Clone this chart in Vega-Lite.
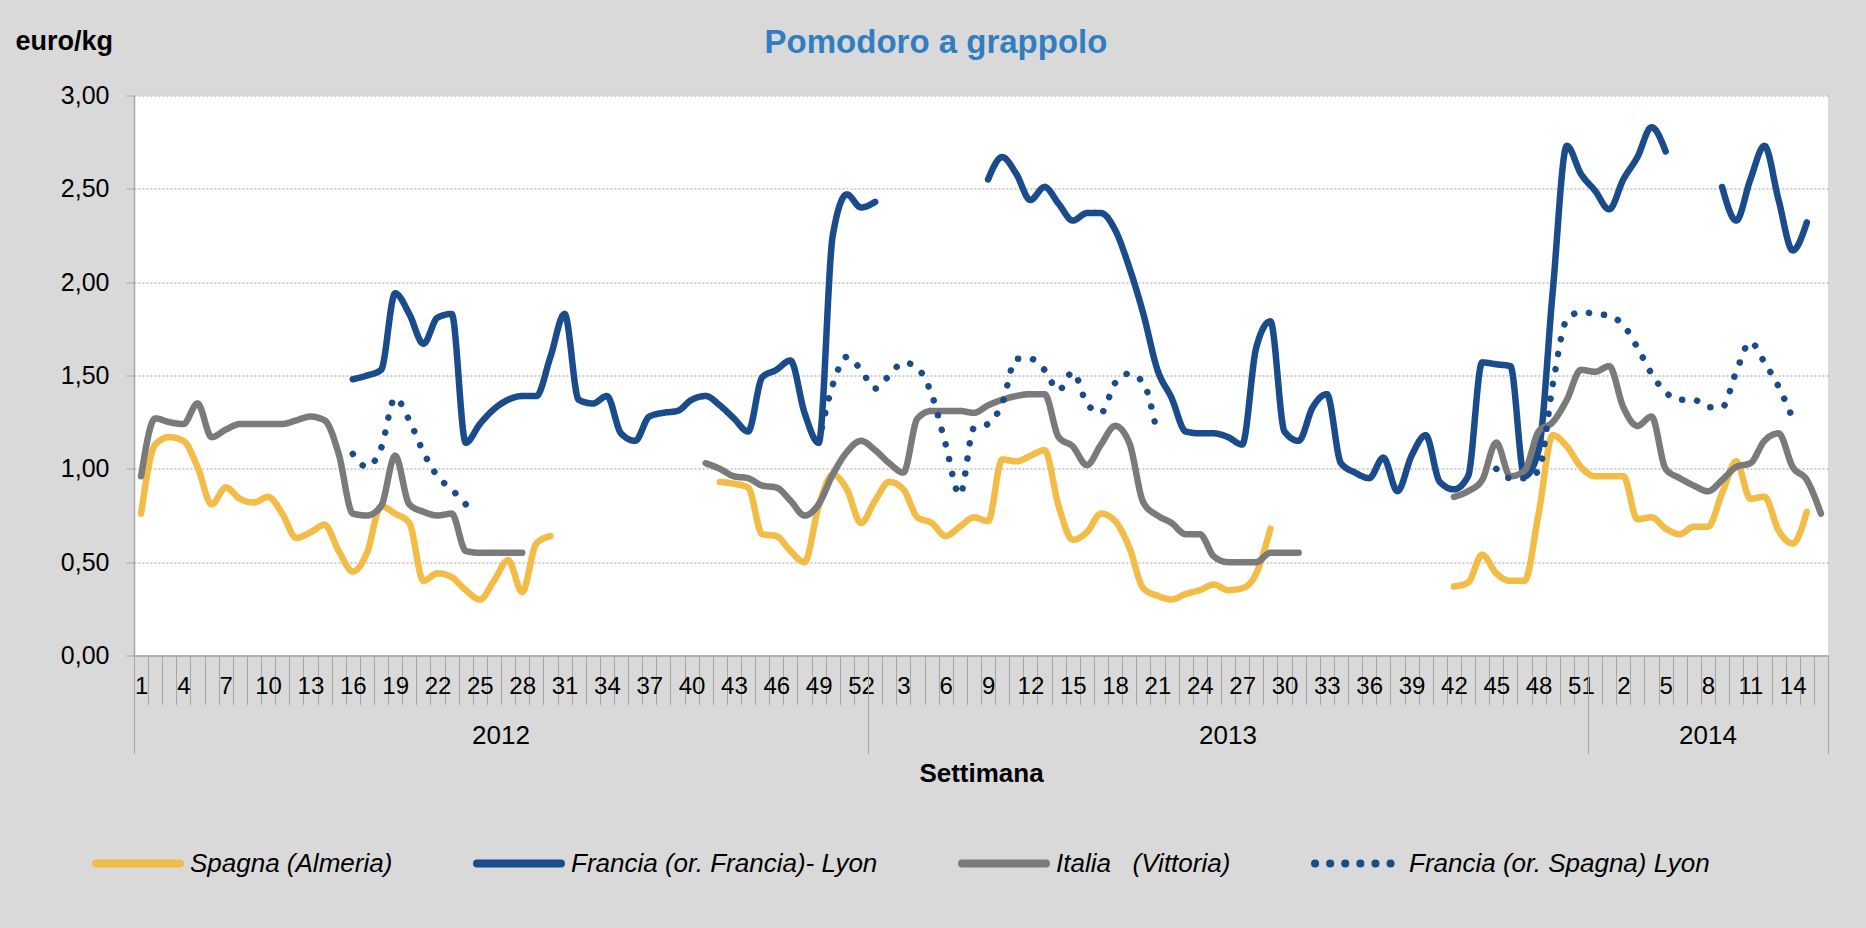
{
  "$schema": "https://vega.github.io/schema/vega-lite/v6.json",
  "width": 1694,
  "height": 560,
  "autosize": {"type": "none"},
  "padding": {"left": 134, "top": 95.5, "right": 38, "bottom": 272.5},
  "background": "#D9D9D9",
  "config": {
    "font": "Liberation Sans",
    "view": {"fill": "white", "stroke": null}
  },
  "title": {
    "text": "Pomodoro a grappolo",
    "anchor": "middle",
    "dx": -45,
    "dy": 101,
    "offset": 43,
    "baseline": "alphabetic",
    "fontSize": 33,
    "fontWeight": "bold",
    "font": "Liberation Sans",
    "color": "#317DC2"
  },
  "data": {
    "values": [
      {"periodo": "2012-01", "spagna": 0.76, "francia": null, "italia": 0.96, "franciaSp": null},
      {"periodo": "2012-02", "spagna": 1.13, "francia": null, "italia": 1.27, "franciaSp": null},
      {"periodo": "2012-03", "spagna": 1.17, "francia": null, "italia": 1.25, "franciaSp": null},
      {"periodo": "2012-04", "spagna": 1.15, "francia": null, "italia": 1.24, "franciaSp": null},
      {"periodo": "2012-05", "spagna": 1.01, "francia": null, "italia": 1.35, "franciaSp": null},
      {"periodo": "2012-06", "spagna": 0.81, "francia": null, "italia": 1.17, "franciaSp": null},
      {"periodo": "2012-07", "spagna": 0.90, "francia": null, "italia": 1.21, "franciaSp": null},
      {"periodo": "2012-08", "spagna": 0.84, "francia": null, "italia": 1.24, "franciaSp": null},
      {"periodo": "2012-09", "spagna": 0.82, "francia": null, "italia": 1.24, "franciaSp": null},
      {"periodo": "2012-10", "spagna": 0.85, "francia": null, "italia": 1.24, "franciaSp": null},
      {"periodo": "2012-11", "spagna": 0.76, "francia": null, "italia": 1.24, "franciaSp": null},
      {"periodo": "2012-12", "spagna": 0.63, "francia": null, "italia": 1.26, "franciaSp": null},
      {"periodo": "2012-13", "spagna": 0.66, "francia": null, "italia": 1.28, "franciaSp": null},
      {"periodo": "2012-14", "spagna": 0.70, "francia": null, "italia": 1.26, "franciaSp": null},
      {"periodo": "2012-15", "spagna": 0.56, "francia": null, "italia": 1.08, "franciaSp": null},
      {"periodo": "2012-16", "spagna": 0.45, "francia": 1.48, "italia": 0.76, "franciaSp": 1.08},
      {"periodo": "2012-17", "spagna": 0.55, "francia": 1.50, "italia": 0.75, "franciaSp": 1.01},
      {"periodo": "2012-18", "spagna": 0.80, "francia": 1.53, "italia": 0.80, "franciaSp": 1.11},
      {"periodo": "2012-19", "spagna": 0.76, "francia": 1.94, "italia": 1.07, "franciaSp": 1.38},
      {"periodo": "2012-20", "spagna": 0.71, "francia": 1.83, "italia": 0.81, "franciaSp": 1.26},
      {"periodo": "2012-21", "spagna": 0.40, "francia": 1.67, "italia": 0.77, "franciaSp": 1.09},
      {"periodo": "2012-22", "spagna": 0.44, "francia": 1.81, "italia": 0.75, "franciaSp": 0.96},
      {"periodo": "2012-23", "spagna": 0.42, "francia": 1.83, "italia": 0.76, "franciaSp": 0.89},
      {"periodo": "2012-24", "spagna": 0.35, "francia": 1.14, "italia": 0.56, "franciaSp": 0.81},
      {"periodo": "2012-25", "spagna": 0.30, "francia": 1.24, "italia": 0.55, "franciaSp": null},
      {"periodo": "2012-26", "spagna": 0.40, "francia": 1.32, "italia": 0.55, "franciaSp": null},
      {"periodo": "2012-27", "spagna": 0.51, "francia": 1.37, "italia": 0.55, "franciaSp": null},
      {"periodo": "2012-28", "spagna": 0.34, "francia": 1.39, "italia": 0.55, "franciaSp": null},
      {"periodo": "2012-29", "spagna": 0.60, "francia": 1.39, "italia": null, "franciaSp": null},
      {"periodo": "2012-30", "spagna": 0.64, "francia": 1.60, "italia": null, "franciaSp": null},
      {"periodo": "2012-31", "spagna": null, "francia": 1.83, "italia": null, "franciaSp": null},
      {"periodo": "2012-32", "spagna": null, "francia": 1.37, "italia": null, "franciaSp": null},
      {"periodo": "2012-33", "spagna": null, "francia": 1.35, "italia": null, "franciaSp": null},
      {"periodo": "2012-34", "spagna": null, "francia": 1.39, "italia": null, "franciaSp": null},
      {"periodo": "2012-35", "spagna": null, "francia": 1.19, "italia": null, "franciaSp": null},
      {"periodo": "2012-36", "spagna": null, "francia": 1.15, "italia": null, "franciaSp": null},
      {"periodo": "2012-37", "spagna": null, "francia": 1.28, "italia": null, "franciaSp": null},
      {"periodo": "2012-38", "spagna": null, "francia": 1.30, "italia": null, "franciaSp": null},
      {"periodo": "2012-39", "spagna": null, "francia": 1.31, "italia": null, "franciaSp": null},
      {"periodo": "2012-40", "spagna": null, "francia": 1.37, "italia": null, "franciaSp": null},
      {"periodo": "2012-41", "spagna": null, "francia": 1.39, "italia": 1.03, "franciaSp": null},
      {"periodo": "2012-42", "spagna": 0.93, "francia": 1.34, "italia": 1.00, "franciaSp": null},
      {"periodo": "2012-43", "spagna": 0.92, "francia": 1.27, "italia": 0.96, "franciaSp": null},
      {"periodo": "2012-44", "spagna": 0.90, "francia": 1.20, "italia": 0.95, "franciaSp": null},
      {"periodo": "2012-45", "spagna": 0.65, "francia": 1.49, "italia": 0.91, "franciaSp": null},
      {"periodo": "2012-46", "spagna": 0.64, "francia": 1.53, "italia": 0.90, "franciaSp": null},
      {"periodo": "2012-47", "spagna": 0.56, "francia": 1.58, "italia": 0.83, "franciaSp": null},
      {"periodo": "2012-48", "spagna": 0.50, "francia": 1.30, "italia": 0.75, "franciaSp": null},
      {"periodo": "2012-49", "spagna": 0.80, "francia": 1.14, "italia": 0.81, "franciaSp": 1.14},
      {"periodo": "2012-50", "spagna": 0.97, "francia": 2.25, "italia": 0.97, "franciaSp": 1.45},
      {"periodo": "2012-51", "spagna": 0.89, "francia": 2.47, "italia": 1.09, "franciaSp": 1.60},
      {"periodo": "2012-52", "spagna": 0.71, "francia": 2.40, "italia": 1.15, "franciaSp": 1.53},
      {"periodo": "2013-01", "spagna": 0.83, "francia": 2.43, "italia": 1.10, "franciaSp": 1.43},
      {"periodo": "2013-02", "spagna": 0.93, "francia": null, "italia": 1.03, "franciaSp": 1.50},
      {"periodo": "2013-03", "spagna": 0.89, "francia": null, "italia": 0.98, "franciaSp": 1.57},
      {"periodo": "2013-04", "spagna": 0.74, "francia": null, "italia": 1.27, "franciaSp": 1.54},
      {"periodo": "2013-05", "spagna": 0.71, "francia": null, "italia": 1.31, "franciaSp": 1.40},
      {"periodo": "2013-06", "spagna": 0.64, "francia": null, "italia": 1.31, "franciaSp": 1.13},
      {"periodo": "2013-07", "spagna": 0.69, "francia": null, "italia": 1.31, "franciaSp": 0.86},
      {"periodo": "2013-08", "spagna": 0.74, "francia": null, "italia": 1.30, "franciaSp": 1.22},
      {"periodo": "2013-09", "spagna": 0.72, "francia": 2.55, "italia": 1.34, "franciaSp": 1.24},
      {"periodo": "2013-10", "spagna": 1.05, "francia": 2.67, "italia": 1.37, "franciaSp": 1.35},
      {"periodo": "2013-11", "spagna": 1.04, "francia": 2.58, "italia": 1.39, "franciaSp": 1.59},
      {"periodo": "2013-12", "spagna": 1.07, "francia": 2.44, "italia": 1.40, "franciaSp": 1.59},
      {"periodo": "2013-13", "spagna": 1.10, "francia": 2.51, "italia": 1.40, "franciaSp": 1.53},
      {"periodo": "2013-14", "spagna": 0.80, "francia": 2.42, "italia": 1.17, "franciaSp": 1.42},
      {"periodo": "2013-15", "spagna": 0.62, "francia": 2.33, "italia": 1.12, "franciaSp": 1.52},
      {"periodo": "2013-16", "spagna": 0.66, "francia": 2.37, "italia": 1.02, "franciaSp": 1.35},
      {"periodo": "2013-17", "spagna": 0.76, "francia": 2.37, "italia": 1.13, "franciaSp": 1.30},
      {"periodo": "2013-18", "spagna": 0.72, "francia": 2.28, "italia": 1.23, "franciaSp": 1.46},
      {"periodo": "2013-19", "spagna": 0.58, "francia": 2.08, "italia": 1.14, "franciaSp": 1.51},
      {"periodo": "2013-20", "spagna": 0.36, "francia": 1.83, "italia": 0.82, "franciaSp": 1.46},
      {"periodo": "2013-21", "spagna": 0.32, "francia": 1.53, "italia": 0.75, "franciaSp": 1.18},
      {"periodo": "2013-22", "spagna": 0.30, "francia": 1.38, "italia": 0.71, "franciaSp": null},
      {"periodo": "2013-23", "spagna": 0.33, "francia": 1.20, "italia": 0.65, "franciaSp": null},
      {"periodo": "2013-24", "spagna": 0.35, "francia": 1.19, "italia": 0.65, "franciaSp": null},
      {"periodo": "2013-25", "spagna": 0.38, "francia": 1.19, "italia": 0.53, "franciaSp": null},
      {"periodo": "2013-26", "spagna": 0.35, "francia": 1.17, "italia": 0.50, "franciaSp": null},
      {"periodo": "2013-27", "spagna": 0.36, "francia": 1.13, "italia": 0.50, "franciaSp": null},
      {"periodo": "2013-28", "spagna": 0.44, "francia": 1.65, "italia": 0.50, "franciaSp": null},
      {"periodo": "2013-29", "spagna": 0.68, "francia": 1.79, "italia": 0.55, "franciaSp": null},
      {"periodo": "2013-30", "spagna": null, "francia": 1.20, "italia": 0.55, "franciaSp": null},
      {"periodo": "2013-31", "spagna": null, "francia": 1.15, "italia": 0.55, "franciaSp": null},
      {"periodo": "2013-32", "spagna": null, "francia": 1.33, "italia": null, "franciaSp": null},
      {"periodo": "2013-33", "spagna": null, "francia": 1.40, "italia": null, "franciaSp": null},
      {"periodo": "2013-34", "spagna": null, "francia": 1.03, "italia": null, "franciaSp": null},
      {"periodo": "2013-35", "spagna": null, "francia": 0.98, "italia": null, "franciaSp": null},
      {"periodo": "2013-36", "spagna": null, "francia": 0.95, "italia": null, "franciaSp": null},
      {"periodo": "2013-37", "spagna": null, "francia": 1.06, "italia": null, "franciaSp": null},
      {"periodo": "2013-38", "spagna": null, "francia": 0.88, "italia": null, "franciaSp": null},
      {"periodo": "2013-39", "spagna": null, "francia": 1.07, "italia": null, "franciaSp": null},
      {"periodo": "2013-40", "spagna": null, "francia": 1.18, "italia": null, "franciaSp": null},
      {"periodo": "2013-41", "spagna": null, "francia": 0.93, "italia": null, "franciaSp": null},
      {"periodo": "2013-42", "spagna": 0.37, "francia": 0.89, "italia": 0.85, "franciaSp": null},
      {"periodo": "2013-43", "spagna": 0.39, "francia": 0.96, "italia": 0.88, "franciaSp": null},
      {"periodo": "2013-44", "spagna": 0.54, "francia": 1.57, "italia": 0.94, "franciaSp": null},
      {"periodo": "2013-45", "spagna": 0.44, "francia": 1.56, "italia": 1.14, "franciaSp": 1.00},
      {"periodo": "2013-46", "spagna": 0.40, "francia": 1.55, "italia": 0.96, "franciaSp": 0.95},
      {"periodo": "2013-47", "spagna": 0.40, "francia": 0.96, "italia": 0.99, "franciaSp": 0.95},
      {"periodo": "2013-48", "spagna": 0.76, "francia": 1.10, "italia": 1.20, "franciaSp": 0.99},
      {"periodo": "2013-49", "spagna": 1.18, "francia": 1.95, "italia": 1.25, "franciaSp": 1.45},
      {"periodo": "2013-50", "spagna": 1.12, "francia": 2.73, "italia": 1.37, "franciaSp": 1.80},
      {"periodo": "2013-51", "spagna": 1.01, "francia": 2.58, "italia": 1.53, "franciaSp": 1.84},
      {"periodo": "2013-52", "spagna": 0.96, "francia": 2.49, "italia": 1.52, "franciaSp": 1.83},
      {"periodo": "2014-01", "spagna": 0.96, "francia": 2.39, "italia": 1.55, "franciaSp": 1.82},
      {"periodo": "2014-02", "spagna": 0.96, "francia": 2.55, "italia": 1.33, "franciaSp": 1.77},
      {"periodo": "2014-03", "spagna": 0.73, "francia": 2.67, "italia": 1.23, "franciaSp": 1.65},
      {"periodo": "2014-04", "spagna": 0.74, "francia": 2.83, "italia": 1.28, "franciaSp": 1.51},
      {"periodo": "2014-05", "spagna": 0.68, "francia": 2.70, "italia": 1.00, "franciaSp": 1.41},
      {"periodo": "2014-06", "spagna": 0.65, "francia": null, "italia": 0.95, "franciaSp": 1.37},
      {"periodo": "2014-07", "spagna": 0.69, "francia": null, "italia": 0.91, "franciaSp": 1.37},
      {"periodo": "2014-08", "spagna": 0.69, "francia": null, "italia": 0.88, "franciaSp": 1.33},
      {"periodo": "2014-09", "spagna": 0.87, "francia": 2.51, "italia": 0.94, "franciaSp": 1.33},
      {"periodo": "2014-10", "spagna": 1.04, "francia": 2.33, "italia": 1.01, "franciaSp": 1.52},
      {"periodo": "2014-11", "spagna": 0.84, "francia": 2.55, "italia": 1.03, "franciaSp": 1.68},
      {"periodo": "2014-12", "spagna": 0.85, "francia": 2.73, "italia": 1.15, "franciaSp": 1.57},
      {"periodo": "2014-13", "spagna": 0.67, "francia": 2.44, "italia": 1.19, "franciaSp": 1.44},
      {"periodo": "2014-14", "spagna": 0.60, "francia": 2.17, "italia": 1.01, "franciaSp": 1.27},
      {"periodo": "2014-15", "spagna": 0.77, "francia": 2.32, "italia": 0.94, "franciaSp": null},
      {"periodo": "2014-16", "spagna": null, "francia": null, "italia": 0.76, "franciaSp": null}
    ]
  },
  "transform": [
    {"fold": ["spagna", "francia", "italia", "franciaSp"], "as": ["serie", "prezzo"]}
  ],
  "resolve": {"axis": {"x": "independent"}},
  "layer": [
    {
      "mark": {
        "type": "line",
        "interpolate": "monotone",
        "strokeWidth": 6.5,
        "strokeCap": "round",
        "strokeJoin": "round"
      },
      "encoding": {
        "x": {
          "field": "periodo",
          "type": "ordinal",
          "bandPosition": 0.5,
          "scale": {"type": "band", "paddingInner": 0, "paddingOuter": 0},
          "axis": {
            "orient": "bottom",
            "tickBand": "extent",
            "tickSize": 49,
            "tickColor": "#A6A6A6",
            "tickWidth": 1,
            "domainColor": "#A6A6A6",
            "domainWidth": 1.5,
            "grid": false,
            "labelAngle": 0,
            "labelOverlap": false,
            "labelFlush": false,
            "labelBaseline": "middle",
            "labelPadding": -18,
            "labelFontSize": 24,
            "labelColor": "#000000",
            "labelExpr": "isString(datum.value) && ((slice(datum.value,0,4)=='2012' && (toNumber(slice(datum.value,5))-1)%3==0) || (slice(datum.value,0,4)=='2013' && toNumber(slice(datum.value,5))%3==0 && toNumber(slice(datum.value,5))<52) || (slice(datum.value,0,4)=='2014' && (toNumber(slice(datum.value,5))+1)%3==0)) ? ''+toNumber(slice(datum.value,5)) : ''",
            "title": "Settimana",
            "titleFontSize": 26,
            "titleFontWeight": "bold",
            "titleColor": "#000000",
            "titleBaseline": "alphabetic",
            "titleY": 125.5
          }
        },
        "y": {
          "field": "prezzo",
          "type": "quantitative",
          "scale": {"domain": [0, 3], "nice": false, "zero": true},
          "axis": {
            "values": [0, 0.5, 1, 1.5, 2, 2.5, 3],
            "labelExpr": "replace(format(datum.value,'.2f'),'.',',')",
            "grid": true,
            "gridDash": [2, 2],
            "gridColor": "#9A9A9A",
            "gridWidth": 1,
            "tickSize": 8,
            "tickColor": "#A6A6A6",
            "domainColor": "#A6A6A6",
            "domainWidth": 1.5,
            "labelFontSize": 25,
            "labelColor": "#000000",
            "labelPadding": 17,
            "title": "euro/kg",
            "titleAngle": 0,
            "titleAlign": "left",
            "titleBaseline": "alphabetic",
            "titleX": -119,
            "titleY": -46,
            "titleFontSize": 27,
            "titleFontWeight": "bold",
            "titleColor": "#000000"
          }
        },
        "color": {
          "field": "serie",
          "type": "nominal",
          "scale": {
            "domain": ["spagna", "francia", "italia", "franciaSp"],
            "range": ["#F2BC47", "#1A4B8A", "#7A7A7A", "#1A4B8A"]
          },
          "legend": {
            "orient": "none",
            "legendX": -42,
            "legendY": 722,
            "direction": "horizontal",
            "columns": 4,
            "columnPadding": 68,
            "padding": 0,
            "title": null,
            "symbolType": "stroke",
            "symbolSize": 7056,
            "symbolStrokeWidth": 8,
            "labelFontSize": 26,
            "labelFontStyle": "italic",
            "labelColor": "#000000",
            "labelOffset": 6,
            "labelLimit": 0,
            "labelExpr": "datum.label=='spagna' ? 'Spagna (Almeria)' : datum.label=='francia' ? 'Francia (or. Francia)- Lyon' : datum.label=='italia' ? 'Italia\u00a0\u00a0\u00a0(Vittoria)' : 'Francia (or. Spagna) Lyon'",
            "encode": {"symbols": {"update": {"strokeCap": {"value": "round"}}}}
          }
        },
        "strokeDash": {
          "field": "serie",
          "type": "nominal",
          "scale": {
            "domain": ["spagna", "francia", "italia", "franciaSp"],
            "range": [[1, 0], [1, 0], [1, 0], [0.1, 15]]
          }
        }
      }
    },
    {
      "mark": {"type": "point", "opacity": 0},
      "encoding": {
        "x": {
          "field": "periodo",
          "type": "ordinal",
          "scale": {"type": "band", "paddingInner": 0, "paddingOuter": 0},
          "axis": {
            "orient": "bottom",
            "values": ["2012-01", "2013-01", "2013-52"],
            "bandPosition": 0,
            "tickSize": 98,
            "tickColor": "#A6A6A6",
            "tickWidth": 1,
            "labels": false,
            "domain": false,
            "grid": false,
            "title": null
          }
        }
      }
    },
    {
      "mark": {"type": "point", "opacity": 0},
      "encoding": {
        "x": {
          "field": "periodo",
          "type": "ordinal",
          "scale": {"type": "band", "paddingInner": 0, "paddingOuter": 0},
          "axis": {
            "orient": "bottom",
            "values": ["2014-16"],
            "bandPosition": 1,
            "tickSize": 98,
            "tickColor": "#A6A6A6",
            "tickWidth": 1,
            "labels": false,
            "domain": false,
            "grid": false,
            "title": null
          }
        }
      }
    },
    {
      "mark": {"type": "point", "opacity": 0},
      "encoding": {
        "x": {
          "field": "periodo",
          "type": "ordinal",
          "scale": {"type": "band", "paddingInner": 0, "paddingOuter": 0},
          "axis": {
            "orient": "bottom",
            "values": ["2012-26", "2013-26", "2014-08"],
            "ticks": false,
            "tickSize": 0,
            "domain": false,
            "grid": false,
            "title": null,
            "labelAngle": 0,
            "labelOverlap": false,
            "labelFlush": false,
            "labelBaseline": "middle",
            "labelPadding": 80,
            "labelFontSize": 26,
            "labelColor": "#000000",
            "labelOffset": {"condition": {"test": "datum.value == '2012-26'", "value": 7}, "value": 0},
            "labelExpr": "isString(datum.value) ? slice(datum.value,0,4) : ''"
          }
        }
      }
    }
  ]
}
